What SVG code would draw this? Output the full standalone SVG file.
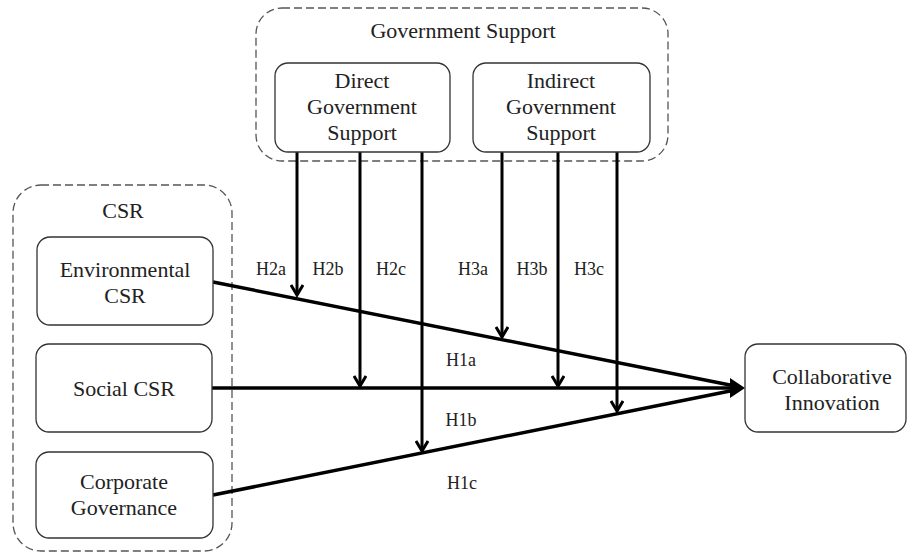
<svg xmlns="http://www.w3.org/2000/svg" width="908" height="555" viewBox="0 0 908 555">
<style>
.grp{fill:none;stroke:#555;stroke-width:1.3;stroke-dasharray:8 4}
.box{fill:#fff;stroke:#333;stroke-width:1.3}
text{font-family:"Liberation Serif","Times New Roman",serif;fill:#222}
.t{font-size:22px;text-anchor:middle}
.h{font-size:18px;text-anchor:middle}
.main{stroke:#000;stroke-width:3.5;fill:none}
.mod{stroke:#000;stroke-width:3;fill:none;marker-end:url(#chev)}
</style>
<defs>
<marker id="chev" viewBox="0 0 14 14" refX="11.5" refY="7" markerWidth="14" markerHeight="14" markerUnits="userSpaceOnUse" orient="auto">
<polyline points="1.5,1 11.5,7 1.5,13" fill="none" stroke="#000" stroke-width="3"/>
</marker>
</defs>
<g id="government-support-group">
<rect class="grp" x="256" y="8" width="412" height="153" rx="26"/>
<text class="t" x="463" y="38">Government Support</text>
</g>
<g id="csr-group">
<rect class="grp" x="13" y="185" width="219" height="366" rx="28"/>
<text class="t" x="123" y="218">CSR</text>
</g>
<g id="connectors">
<line class="main" x1="213" y1="282" x2="735" y2="386"/>
<line class="main" x1="212" y1="388" x2="735" y2="388"/>
<line class="main" x1="213" y1="495" x2="735" y2="390"/>
<polygon points="745,388 730,378 730,398" fill="#000"/>
<line class="mod" x1="297" y1="152" x2="297" y2="295"/>
<line class="mod" x1="360" y1="152" x2="360" y2="386"/>
<line class="mod" x1="422" y1="152" x2="422" y2="451"/>
<line class="mod" x1="502" y1="152" x2="502" y2="337"/>
<line class="mod" x1="558" y1="152" x2="558" y2="386"/>
<line class="mod" x1="617" y1="152" x2="617" y2="411"/>
<text class="h" x="271" y="275">H2a</text>
<text class="h" x="328" y="275">H2b</text>
<text class="h" x="391" y="275">H2c</text>
<text class="h" x="473" y="275">H3a</text>
<text class="h" x="532" y="275">H3b</text>
<text class="h" x="589" y="275">H3c</text>
<text class="h" x="461" y="366">H1a</text>
<text class="h" x="461" y="426">H1b</text>
<text class="h" x="462" y="489">H1c</text>
</g>
<g id="direct-government-support">
<rect class="box" x="275" y="63" width="175" height="89" rx="13"/>
<text class="t" x="362" y="88">Direct</text>
<text class="t" x="362" y="114">Government</text>
<text class="t" x="362" y="140">Support</text>
</g>
<g id="indirect-government-support">
<rect class="box" x="473" y="63" width="177" height="89" rx="13"/>
<text class="t" x="561" y="88">Indirect</text>
<text class="t" x="561" y="114">Government</text>
<text class="t" x="561" y="140">Support</text>
</g>
<g id="environmental-csr">
<rect class="box" x="37" y="237" width="176" height="88" rx="13"/>
<text class="t" x="125" y="277">Environmental</text>
<text class="t" x="125" y="303">CSR</text>
</g>
<g id="social-csr">
<rect class="box" x="36" y="344" width="176" height="88" rx="13"/>
<text class="t" x="124" y="396">Social CSR</text>
</g>
<g id="corporate-governance">
<rect class="box" x="36" y="452" width="177" height="86" rx="13"/>
<text class="t" x="124" y="489">Corporate</text>
<text class="t" x="124" y="515">Governance</text>
</g>
<g id="collaborative-innovation">
<rect class="box" x="745" y="344" width="161" height="88" rx="13"/>
<text class="t" x="832" y="384">Collaborative</text>
<text class="t" x="832" y="410">Innovation</text>
</g>
</svg>
